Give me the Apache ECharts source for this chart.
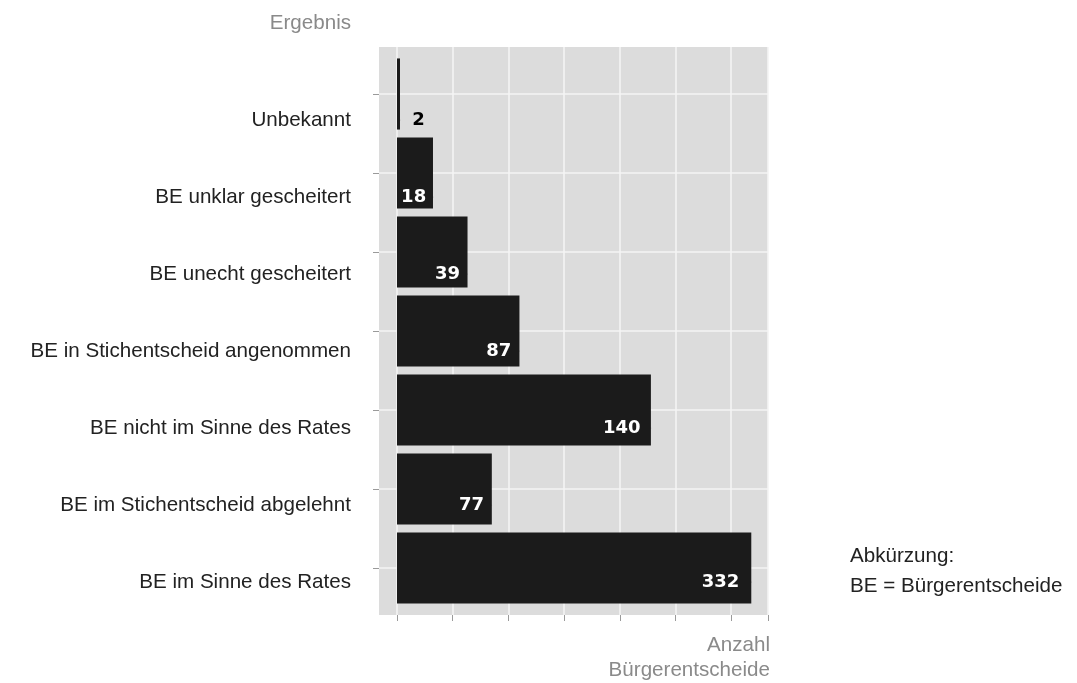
<!DOCTYPE html>
<html>
<head>
<meta charset="utf-8">
<script src="https://cdn.jsdelivr.net/npm/echarts@6/dist/echarts.min.js"></script>
<style>
  html, body { margin: 0; padding: 0; background: #ffffff; }
  #chart { width: 1077px; height: 683px; }
</style>
</head>
<body>
<div id="chart"></div>
<script>
// ---- data ----
const categories = [
  'Unbekannt',
  'BE unklar gescheitert',
  'BE unecht gescheitert',
  'BE in Stichentscheid angenommen',
  'BE nicht im Sinne des Rates',
  'BE im Stichentscheid abgelehnt',
  'BE im Sinne des Rates'
];
// numbers printed on the bars
const counts = [2, 18, 39, 87, 140, 77, 332];
// bar lengths as drawn in the picture (axis units, 50 per gridline)
const barLengths = [2.7, 32.3, 63.3, 109.9, 227.9, 85.1, 318];
const yAxisTitle = 'Ergebnis';
const xAxisTitle = ['Anzahl', 'Bürgerentscheide'];
const noteLines = ['Abkürzung:', 'BE = Bürgerentscheide'];

// ---- layout ----
const W = 1077, H = 683;
const panelLeft = 379, panelRight = 768, panelTop = 47, panelBottom = 615;
const zeroX = 397;
const xMax = 333;
const pxPerUnit = (panelRight - zeroX) / xMax;
const xMinPanel = -(zeroX - panelLeft) / pxPerUnit;
const firstCatY = 94, lastCatY = 568;
const firstTextY = 120, lastTextY = 582;

const labelFont = 'Liberation Sans';
const labelSize = 20.6;
const numFont = 'DejaVu Sans';

const chart = echarts.init(document.getElementById('chart'), null, { renderer: 'canvas' });

const option = {
  backgroundColor: '#ffffff',
  animation: false,
  grid: [
    // 0: bars + horizontal gridlines + left ticks
    { left: panelLeft, right: W - panelRight, top: firstCatY, bottom: H - lastCatY, containLabel: false },
    // 1: vertical gridlines + bottom ticks
    { left: zeroX, right: W - panelRight, top: panelTop, bottom: H - panelBottom, containLabel: false },
    // 2: category labels + value labels
    { left: panelLeft, right: W - panelRight, top: firstTextY, bottom: H - lastTextY, containLabel: false }
  ],
  xAxis: [
    { gridIndex: 0, type: 'value', min: xMinPanel, max: xMax, show: true,
      axisLine: { show: false, onZero: false }, axisTick: { show: false }, axisLabel: { show: false }, splitLine: { show: false } },
    { gridIndex: 1, type: 'value', min: 0, max: xMax, interval: 50,
      axisLine: { show: false, onZero: false },
      axisTick: { show: true, length: 6, lineStyle: { color: '#9a9a9a', width: 1 } },
      axisLabel: { show: false },
      splitLine: { show: true, lineStyle: { color: '#f4f4f4', width: 1.6 } } },
    { gridIndex: 2, type: 'value', min: xMinPanel, max: xMax, show: false,
      axisLine: { onZero: false } }
  ],
  yAxis: [
    { gridIndex: 0, type: 'category', data: categories, inverse: true, boundaryGap: false,
      axisLine: { show: false, onZero: false },
      axisTick: { show: true, length: 6, lineStyle: { color: '#9a9a9a', width: 1 } },
      axisLabel: { show: false },
      splitLine: { show: true, lineStyle: { color: '#f4f4f4', width: 1.6 } } },
    { gridIndex: 1, type: 'value', min: 0, max: 1, show: false },
    { gridIndex: 2, type: 'category', data: categories, inverse: true, boundaryGap: false,
      axisLine: { show: false, onZero: false }, axisTick: { show: false },
      splitLine: { show: false },
      axisLabel: { show: true, margin: 28, color: '#222222', fontFamily: labelFont, fontSize: labelSize } }
  ],
  graphic: [
    { type: 'rect', z: -10, silent: true,
      shape: { x: panelLeft, y: panelTop, width: panelRight - panelLeft, height: panelBottom - panelTop },
      style: { fill: '#dcdcdc' } },
    { type: 'text', silent: true, x: 351, y: 23,
      style: { text: yAxisTitle, textAlign: 'right', textVerticalAlign: 'middle', fill: '#8a8a8a',
               fontFamily: labelFont, fontSize: labelSize } },
    { type: 'text', silent: true, x: 770, y: 645,
      style: { text: xAxisTitle[0], textAlign: 'right', textVerticalAlign: 'middle', fill: '#8a8a8a',
               fontFamily: labelFont, fontSize: labelSize } },
    { type: 'text', silent: true, x: 770, y: 670,
      style: { text: xAxisTitle[1], textAlign: 'right', textVerticalAlign: 'middle', fill: '#8a8a8a',
               fontFamily: labelFont, fontSize: labelSize } },
    { type: 'text', silent: true, x: 850, y: 556,
      style: { text: noteLines[0], textAlign: 'left', textVerticalAlign: 'middle', fill: '#222222',
               fontFamily: labelFont, fontSize: labelSize } },
    { type: 'text', silent: true, x: 850, y: 586,
      style: { text: noteLines[1], textAlign: 'left', textVerticalAlign: 'middle', fill: '#222222',
               fontFamily: labelFont, fontSize: labelSize } }
  ],
  series: [
    { type: 'bar', xAxisIndex: 0, yAxisIndex: 0, data: barLengths, barWidth: '90%',
      itemStyle: { color: '#1b1b1b' }, z: 3, silent: true },
    { type: 'scatter', xAxisIndex: 2, yAxisIndex: 2, symbolSize: 0.5, z: 5, silent: true,
      itemStyle: { color: '#1b1b1b', opacity: 1 },
      data: barLengths.map((v, i) => ({
        value: [v, categories[i]],
        label: i === 0
          ? { show: true, position: 'right', distance: 12, color: '#000000', opacity: 1 }
          : { show: true, position: 'left', distance: 6 + 6 * v / xMax, color: '#ffffff', opacity: 1 }
      })),
      label: {
        show: true, opacity: 1, textBorderWidth: 0,
        fontFamily: numFont, fontWeight: 'bold', fontSize: 18,
        formatter: p => String(counts[p.dataIndex])
      } }
  ]
};

chart.setOption(option);
</script>
</body>
</html>
